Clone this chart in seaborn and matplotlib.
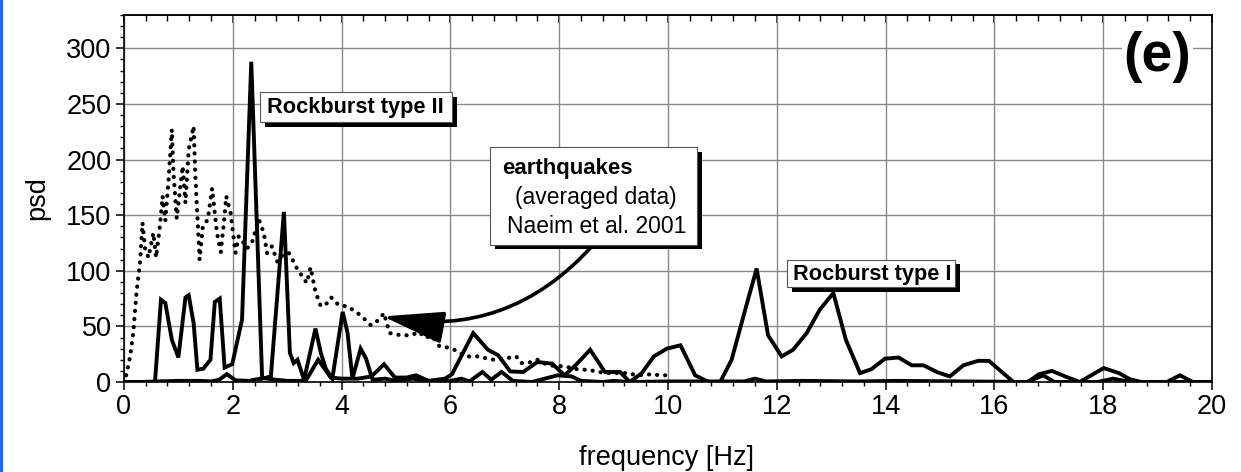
import matplotlib
matplotlib.use("Agg")
import matplotlib.pyplot as plt
from matplotlib.patches import Rectangle, FancyArrowPatch
from matplotlib.ticker import MultipleLocator
import seaborn as sns
import pandas as pd

# ---------------- data ----------------
type1_f = [0, 0.3, 0.6, 1.0, 1.4, 1.6, 1.75, 1.89, 2.05, 2.3, 2.55, 2.8, 3.0, 3.34, 3.57, 3.8,
           4.0, 4.3, 4.55, 4.78, 4.98, 5.2, 5.37, 5.6, 5.9, 6.03, 6.42, 6.69, 6.88, 7.1, 7.34,
           7.6, 7.87, 8.1, 8.3, 8.57, 8.84, 9.12, 9.3, 9.52, 9.74, 9.98, 10.23, 10.5, 10.75,
           10.96, 11.17, 11.42, 11.63, 11.84, 12.09, 12.3, 12.55, 12.79, 13.04, 13.27, 13.53,
           13.74, 13.99, 14.24, 14.48, 14.7, 14.94, 15.18, 15.43, 15.7, 15.9, 16.35, 16.62,
           16.82, 17.06, 17.3, 17.57, 17.78, 18.01, 18.29, 18.49, 18.7, 19.17, 19.41, 19.65, 20]
type1_psd = [0, 0, 0.5, 1, 1, 0.5, 2, 7, 1.5, 1, 3.5, 2, 1, 1, 20, 4,
             3, 3, 5, 16, 4, 4, 6, 1, 3, 7, 44, 29, 24, 9.5, 9,
             18, 16.5, 6, 15, 29, 9, 9, 0, 8, 23, 30, 33, 6, 0,
             0, 20, 65, 102, 42, 23, 29, 44, 65, 80, 38, 8,
             11.5, 21, 22, 15, 15, 9, 5, 15, 19, 19, 0, 0,
             7, 10, 5, 0, 6, 12.5, 8, 2.5, 0, 0, 6, 0, 0]

type2_f = [0, 0.57, 0.68, 0.76, 0.88, 1.0, 1.13, 1.19, 1.28, 1.35, 1.46, 1.59, 1.67, 1.76,
           1.85, 1.99, 2.17, 2.34, 2.54, 2.7, 2.94, 3.05, 3.12, 3.19, 3.31, 3.52, 3.62, 3.71,
           3.83, 4.02, 4.11, 4.2, 4.35, 4.45, 4.57, 4.8, 5.0, 5.3, 5.6, 6.0, 6.2, 6.35, 6.59,
           6.75, 6.94, 7.15, 7.5, 7.97, 8.23, 8.4, 8.8, 9.0, 9.3, 10.0, 11.0, 11.4, 11.6, 11.8,
           12.5, 13.5, 14.2, 15.5, 16.6, 16.9, 17.1, 17.9, 18.18, 18.5, 20]
type2_psd = [0, 0, 74, 71, 38, 22, 76, 78, 53, 11, 12, 20, 72, 75,
             13, 16, 56, 288, 3, 5, 153, 26, 17, 20, 2, 48, 26, 12,
             3, 63, 44, 3, 30, 21, 2, 3, 1, 3, 1, 1, 3, 0.5, 9,
             2, 9, 1, 0, 6, 5, 1, 0, 1, 0, 0.5, 0.5, 0.5, 3, 0.5,
             1, 0.5, 1, 0.5, 0, 6, 0, 0, 3, 0, 0]

quake_f = [0.04, 0.11, 0.17, 0.23, 0.30, 0.34, 0.39, 0.45, 0.54, 0.59, 0.66, 0.71, 0.76, 0.82,
           0.88, 0.91, 0.97, 1.03, 1.08, 1.13, 1.19, 1.28, 1.31, 1.39, 1.45, 1.54, 1.62, 1.71,
           1.78, 1.85, 1.88, 1.96, 2.05, 2.11, 2.2, 2.26, 2.35, 2.48, 2.57, 2.63, 2.72, 2.82,
           2.93, 3.03, 3.12, 3.19, 3.28, 3.36, 3.43, 3.52, 3.62, 3.74, 3.81, 3.95, 4.11, 4.35,
           4.54, 4.69, 4.78, 4.88, 5.09, 5.27, 5.43, 5.52, 5.67, 5.8, 5.95, 6.07, 6.29, 6.53,
           6.75, 6.99, 7.21, 7.3, 7.42, 7.6, 7.8, 8.1, 8.38, 8.53, 8.84, 9.24, 9.45, 9.7, 9.86, 10.0]
quake_psd = [6, 22, 44, 80, 110, 143, 119, 112, 134, 112, 140, 167, 145, 182,
             227, 188, 147, 173, 194, 161, 209, 230, 188, 110, 140, 146, 174, 134,
             117, 150, 167, 152, 116, 131, 125, 120, 125, 146, 134, 116, 122, 108,
             115, 116, 108, 101, 95, 89, 103, 81, 68, 71, 76, 69, 68, 60,
             51, 56, 62, 44, 42, 42, 45, 40, 41, 32, 31, 29, 23, 23,
             20, 21, 23, 17, 17, 20, 15, 14, 11, 11, 8, 8, 6, 7, 6, 6]

x_ticks = [0, 2, 4, 6, 8, 10, 12, 14, 16, 18, 20]
y_ticks = [0, 50, 100, 150, 200, 250, 300]

# ---------------- style ----------------
sns.set_style("white")
plt.rcParams['font.family'] = ['Liberation Sans', 'DejaVu Sans']
plt.rcParams['text.color'] = 'black'
plt.rcParams['axes.labelcolor'] = 'black'
plt.rcParams['xtick.color'] = 'black'
plt.rcParams['ytick.color'] = 'black'

fig = plt.figure(figsize=(12.41, 4.72), dpi=100)
ax = fig.add_axes([0.0999, 0.1907, 0.8767, 0.7775])

df1 = pd.DataFrame({"f": type1_f, "psd": type1_psd})
df2 = pd.DataFrame({"f": type2_f, "psd": type2_psd})
dfq = pd.DataFrame({"f": quake_f, "psd": quake_psd})

sns.lineplot(data=dfq, x="f", y="psd", ax=ax, color="black", lw=3.0,
             linestyle=(0, (0.05, 1.9)), dash_capstyle="round", estimator=None, sort=False, zorder=3)
sns.lineplot(data=df1, x="f", y="psd", ax=ax, color="black", lw=2.8,
             estimator=None, sort=False, zorder=4, solid_joinstyle="miter")
sns.lineplot(data=df2, x="f", y="psd", ax=ax, color="black", lw=2.8,
             estimator=None, sort=False, zorder=4, solid_joinstyle="miter")

ax.set_xlim(0, 20)
ax.set_ylim(0, 330)
ax.set_xticks(x_ticks)
ax.set_xticklabels([str(t) for t in x_ticks])
ax.set_yticks(y_ticks)
ax.set_yticklabels([str(t) for t in y_ticks])
ax.xaxis.set_minor_locator(MultipleLocator(0.4))
ax.yaxis.set_minor_locator(MultipleLocator(10))
ax.grid(True, which="major", color="#8a8a8a", lw=1.0)
ax.set_axisbelow(True)

for s in ax.spines.values():
    s.set_color("black")
    s.set_linewidth(1.2)
    s.set_visible(True)

ax.tick_params(axis="both", which="major", direction="out", length=6, width=1.1,
               labelsize=19.5, color="black", labelcolor="black", pad=3,
               right=False, top=False, left=True, bottom=True)
ax.tick_params(axis="both", which="minor", direction="out", length=3, width=1.0,
               color="black", right=False, top=False, left=True, bottom=True)

sec = ax.secondary_xaxis("top")
sec.set_xticks(x_ticks)
sec.xaxis.set_minor_locator(MultipleLocator(0.4))
sec.tick_params(axis="x", which="major", direction="in", length=6, width=1.1, labeltop=False)
sec.tick_params(axis="x", which="minor", direction="in", length=4, width=1.0, labeltop=False)
sec.spines["top"].set_linewidth(1.2)

ax.set_xlabel("frequency [Hz]", fontsize=19.5, color="black")
ax.set_ylabel("psd", fontsize=19.5, color="black")
ax.xaxis.set_label_coords(0.499, -0.172)
ax.yaxis.set_label_coords(-0.068, 0.5)

# ---------------- annotations ----------------
sx, sy = 0.09, 4.0  # shadow offset in data units


def shadow_box(x0, x1, y0, y1):
    ax.add_patch(Rectangle((x0 + sx, y0 - sy), x1 - x0, y1 - y0, facecolor="black",
                           edgecolor="none", zorder=6))
    ax.add_patch(Rectangle((x0, y0), x1 - x0, y1 - y0, facecolor="white",
                           edgecolor="#555555", lw=0.8, zorder=7))


shadow_box(2.50, 6.03, 233.5, 260.5)
ax.text(2.63, 246.5, "Rockburst type II", fontsize=15.7, fontweight="bold",
        ha="left", va="center", zorder=8)

shadow_box(12.19, 15.28, 85, 110)
ax.text(12.29, 97, "Rocburst type I", fontsize=15.7, fontweight="bold",
        ha="left", va="center", zorder=8)

shadow_box(6.73, 10.53, 123.5, 211)
ax.text(6.96, 192, "earthquakes", fontsize=16, fontweight="bold",
        ha="left", va="center", zorder=8)
ax.text(7.18, 166, "(averaged data)", fontsize=16.5, ha="left", va="center", zorder=8)
ax.text(7.05, 140, "Naeim et al. 2001", fontsize=16.5, ha="left", va="center", zorder=8)

arrow = FancyArrowPatch(posA=(8.62, 123), posB=(4.76, 59),
                        connectionstyle="arc3,rad=-0.28",
                        arrowstyle="-|>,head_length=1.9,head_width=0.5",
                        mutation_scale=20, color="black", lw=2.6, zorder=5,
                        shrinkA=0, shrinkB=0)
ax.add_patch(arrow)

ax.text(19.0, 292, "(e)", fontsize=40, fontweight="bold", ha="center", va="center",
        zorder=8, bbox=dict(facecolor="white", edgecolor="none", pad=1))

# left blue strip
fig.patches.append(Rectangle((0, 0), 3 / 1241, 1, transform=fig.transFigure,
                             facecolor="#1f66ff", edgecolor="none"))

fig.savefig("out.png", dpi=100)
